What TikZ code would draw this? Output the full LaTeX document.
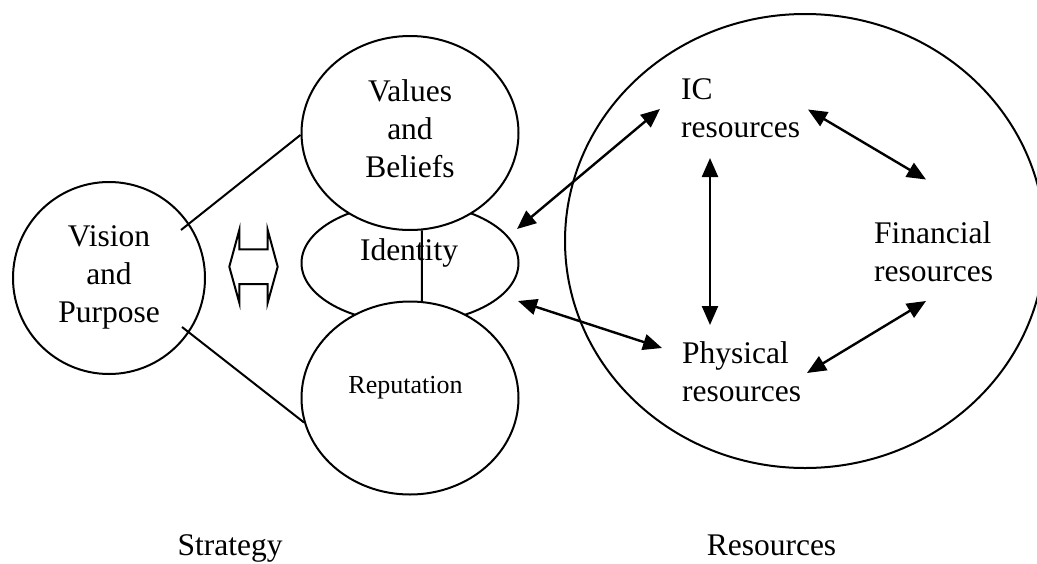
\documentclass[tikz,border=0pt]{standalone}
\usepackage{fontspec}
\setmainfont{Liberation Serif}
\usetikzlibrary{shapes.geometric,arrows.meta}
\begin{document}
\begin{tikzpicture}[x=1pt,y=-1pt,
  outline/.style={draw, line width=2pt},
  bubble/.style={outline, ellipse, inner sep=0pt, fill=white},
  label/.style={inner sep=0pt, font=\fontsize{31.5}{38}\selectfont},
  biglink/.style={line width=2.4pt, {Triangle[length=19pt,width=16pt]}-{Triangle[length=19pt,width=16pt]}},
  plainlink/.style={line width=2pt}]
\useasboundingbox (0,0) rectangle (1037,563);

% Strategy side: vision circle
\node[bubble, circle, minimum size=192pt] (vision) at (109,278) {};
\node[label, align=center] (visionT) at (109,277.5) {Vision\\and\\Purpose};

% identity ellipse sits behind the two larger ellipses
\node[bubble, minimum width=217pt, minimum height=120pt] (identity) at (410,263) {};
\node[bubble, minimum width=217pt, minimum height=194pt] (values) at (410,133) {};
\node[bubble, minimum width=217pt, minimum height=193pt] (reputation) at (410,398) {};
\node[label, align=center] (valuesT) at (410,128.8) {Values\\and\\Beliefs};
\node[label, anchor=base] (identityT) at (409,260) {Identity};
\node[inner sep=0pt, font=\fontsize{26}{30}\selectfont, anchor=base] (reputationT) at (405.5,393) {Reputation};
\draw[plainlink] (values.-83) -- (reputation.83);

% lines from the vision circle
\coordinate (visA) at (181,230);
\coordinate (visB) at (182,327);
\draw[plainlink] (visA) -- (values.181);
\draw[plainlink] (visB) -- (reputation.193);

% open double arrow
\draw[outline, line join=miter] (239.3,230) -- (229.3,266.7) -- (239.3,302.7) -- (239.3,284)
  -- (267.7,284) -- (267.7,302.7) -- (277.7,266.7) -- (267.7,230) -- (267.7,249.3)
  -- (239.3,249.3) -- cycle;

% Resources side
\begin{scope}
\clip (0,0) rectangle (1037,563);
\node[bubble, fill=none, minimum width=480pt, minimum height=454pt] (resources) at (805,241) {};
\end{scope}
\node[label, align=left, anchor=west] (icT) at (681,108) {IC\\resources};
\node[label, align=left, anchor=west] (finT) at (874,251.3) {Financial\\resources};
\node[label, align=left, anchor=west] (physT) at (682,371.5) {Physical\\resources};

% arrow end points
\coordinate (idUp) at (517,229);
\coordinate (idDown) at (518,301);
\coordinate (icIn) at (660,109);
\coordinate (physIn) at (662,348);
\coordinate (icBottom) at (710,158);
\coordinate (physTop) at (710,325);
\coordinate (icRight) at (808,109.5);
\coordinate (finTop) at (926,179.5);
\coordinate (physRight) at (807,373);
\coordinate (finBottom) at (926,301);

\draw[biglink] (idUp) -- (icIn);
\draw[biglink] (idDown) -- (physIn);
\draw[biglink] (icBottom) -- (physTop);
\draw[biglink] (icRight) -- (finTop);
\draw[biglink] (physRight) -- (finBottom);

% captions
\node[label, anchor=base] (strategy) at (230,555) {Strategy};
\node[label, anchor=base] (resCap) at (771.5,555) {Resources};
\end{tikzpicture}
\end{document}
